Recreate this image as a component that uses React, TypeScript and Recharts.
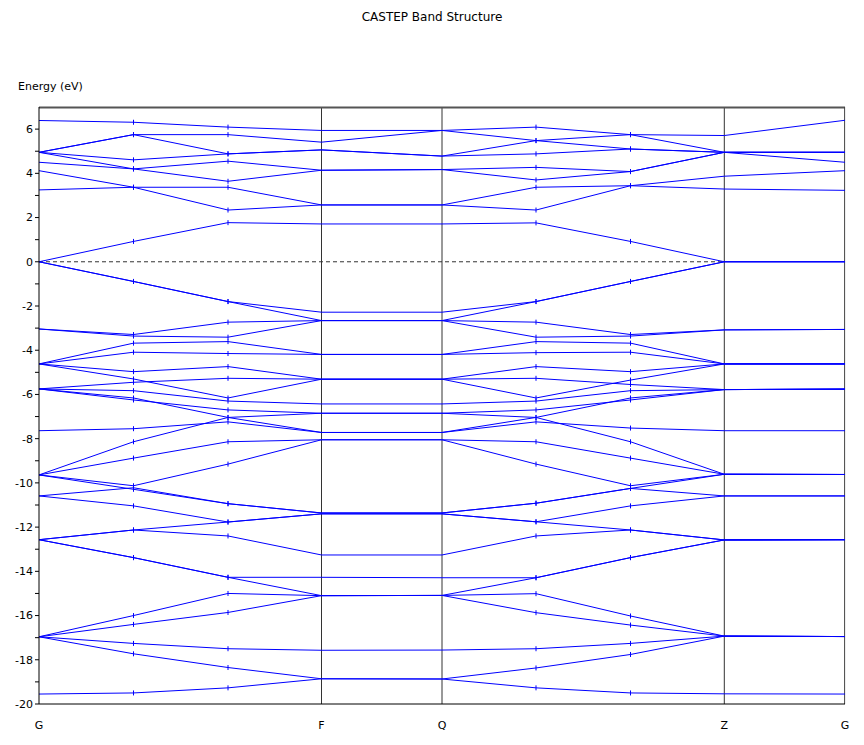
import { LineChart, Line, XAxis, YAxis, ReferenceLine } from "recharts";

// k-path positions (G, two interior points, F, Q, two interior points, Z, G)
const kPos = [0, 94.5, 189, 282.5, 403, 497, 591.5, 685.3, 806];
const kTicks = [0, 282.5, 403, 685.3, 806];
const kLabels = ["G", "F", "Q", "Z", "G"];
const energyTicks = [
  -20, -19, -18, -17, -16, -15, -14, -13, -12, -11, -10, -9, -8, -7, -6, -5,
  -4, -3, -2, -1, 0, 1, 2, 3, 4, 5, 6,
];
const markerIdx = [1, 2, 5, 6];

// band energies (eV) at each k point
const conductionBands = [
  [6.39, 6.31, 6.09, 5.94, 5.94, 6.09, 5.75, 5.71, 6.4],
  [4.95, 5.75, 5.75, 5.41, 5.94, 5.48, 5.75, 4.95, 4.95],
  [4.95, 5.75, 4.88, 5.06, 4.78, 5.48, 5.1, 4.95, 4.95],
  [4.95, 4.61, 4.88, 5.06, 4.78, 4.88, 5.1, 4.95, 4.5],
  [4.95, 4.2, 4.55, 4.14, 4.17, 4.27, 4.08, 4.95, 4.95],
  [4.5, 4.2, 3.64, 4.14, 4.17, 3.7, 4.08, 4.95, 4.95],
  [4.12, 3.37, 3.37, 2.57, 2.57, 3.37, 3.44, 3.29, 3.23],
  [3.25, 3.37, 2.34, 2.57, 2.57, 2.34, 3.44, 3.87, 4.12],
  [0, 0.92, 1.77, 1.71, 1.71, 1.76, 0.92, 0, 0],
];

const fermiBands = [
  [0, -0.89, -1.8, -2.28, -2.28, -1.8, -0.89, 0, 0],
  [0, -0.89, -1.8, -2.66, -2.66, -1.8, -0.89, 0, 0],
];

const valenceBands = [
  [-3.04, -3.29, -2.73, -2.66, -2.66, -2.73, -3.29, -3.08, -3.06],
  [-3.04, -3.36, -3.41, -2.66, -2.66, -3.41, -3.36, -3.08, -3.06],
  [-4.62, -3.68, -3.61, -4.19, -4.19, -3.61, -3.68, -4.62, -4.62],
  [-4.62, -4.09, -4.15, -4.19, -4.19, -4.11, -4.09, -4.62, -4.62],
  [-4.62, -4.97, -4.74, -5.31, -5.31, -4.74, -4.97, -4.62, -4.62],
  [-4.62, -5.3, -6.16, -5.31, -5.31, -6.16, -5.35, -4.62, -4.62],
  [-5.75, -5.45, -5.27, -5.31, -5.31, -5.27, -5.55, -5.78, -5.76],
  [-5.75, -5.83, -6.3, -6.43, -6.43, -6.3, -5.83, -5.78, -5.76],
  [-5.75, -6.16, -7.04, -7.72, -7.72, -7.04, -6.16, -5.78, -5.76],
  [-5.75, -6.25, -6.7, -6.85, -6.85, -6.7, -6.25, -5.78, -5.76],
  [-7.64, -7.55, -7.24, -7.72, -7.72, -7.24, -7.52, -7.64, -7.64],
  [-9.64, -8.14, -7.04, -6.85, -6.85, -7.04, -8.14, -9.61, -9.62],
  [-9.64, -8.88, -8.14, -8.05, -8.05, -8.14, -8.88, -9.61, -9.62],
];

const coreBands = [
  [-19.55, -19.5, -19.27, -18.86, -18.87, -19.27, -19.5, -19.54, -19.55],
  [-16.96, -17.73, -18.35, -18.86, -18.87, -18.37, -17.76, -16.93, -16.95],
  [-16.96, -17.26, -17.5, -17.57, -17.56, -17.5, -17.26, -16.93, -16.95],
  [-16.96, -16.4, -15.86, -15.1, -15.09, -15.87, -16.43, -16.93, -16.95],
  [-16.96, -16.0, -15.0, -15.1, -15.09, -15.01, -16.02, -16.93, -16.95],
  [-12.57, -13.38, -14.27, -15.1, -15.09, -14.29, -13.38, -12.58, -12.57],
  [-12.57, -13.38, -14.27, -14.27, -14.29, -14.29, -13.38, -12.58, -12.57],
  [-12.57, -12.13, -12.4, -13.26, -13.26, -12.4, -12.13, -12.58, -12.57],
  [-12.57, -12.13, -11.77, -11.4, -11.4, -11.76, -12.13, -12.58, -12.57],
  [-10.59, -11.04, -11.77, -11.4, -11.4, -11.76, -11.04, -10.59, -10.59],
  [-9.64, -10.29, -10.94, -11.36, -11.36, -10.92, -10.25, -9.61, -9.62],
  [-9.64, -10.13, -9.15, -8.05, -8.05, -9.15, -10.13, -9.61, -9.62],
  [-10.59, -10.22, -10.94, -11.36, -11.36, -10.92, -10.25, -10.59, -10.59],
];

const allBands = [...conductionBands, ...fermiBands, ...valenceBands, ...coreBands];

const data = kPos.map((k, i) => {
  const row: Record<string, number> = { k };
  allBands.forEach((b, j) => {
    row[`b${j}`] = b[i];
  });
  return row;
});

const KDot = (props: any) => {
  const { cx, cy, index } = props;
  if (!markerIdx.includes(index) || cx == null || cy == null) {
    return <g key={`n-${index}`} />;
  }
  return (
    <line
      key={`d-${index}`}
      x1={cx}
      x2={cx}
      y1={cy - 2.5}
      y2={cy + 2.5}
      stroke="#0000ff"
      strokeWidth={1}
    />
  );
};

const font = "'DejaVu Sans', Verdana, sans-serif";

const App = () => {
  return (
    <div
      style={{
        position: "absolute",
        left: 0,
        top: 0,
        width: 864,
        height: 745,
        background: "#fff",
        fontFamily: font,
      }}
    >
      <div
        style={{
          position: "absolute",
          top: 10,
          width: 864,
          textAlign: "center",
          fontSize: 12,
          color: "#000",
        }}
      >
        CASTEP Band Structure
      </div>
      <div
        style={{ position: "absolute", left: 18, top: 80, fontSize: 11, color: "#000" }}
      >
        Energy (eV)
      </div>
      <LineChart
        width={864}
        height={745}
        data={data}
        margin={{ top: 107, right: 19, bottom: 11, left: 0 }}
      >
        <XAxis
          dataKey="k"
          type="number"
          domain={[0, 806]}
          ticks={kTicks}
          tickFormatter={(v: number) => kLabels[kTicks.indexOf(v)] ?? ""}
          tickLine={false}
          tickMargin={11}
          height={30}
          stroke="#000"
          tick={{ fill: "#000", fontSize: 11, fontFamily: font }}
        />
        <YAxis
          type="number"
          domain={[-20, 7]}
          ticks={energyTicks}
          interval={0}
          tickFormatter={(v: number) => (v % 2 === 0 ? String(v) : "")}
          tickSize={4}
          tickMargin={2}
          width={39}
          stroke="#000"
          tick={{ fill: "#000", fontSize: 11, fontFamily: font }}
        />
        <ReferenceLine
          segment={[
            { x: 0, y: 0 },
            { x: 685.3, y: 0 },
          ]}
          stroke="#333"
          strokeDasharray="4 3"
        />
        {kTicks.slice(1, 4).map((x) => (
          <ReferenceLine key={`v-${x}`} x={x} stroke="#333" />
        ))}
        {/* plot frame: top and right edges */}
        <ReferenceLine y={6.98} stroke="#555" strokeWidth={2} />
        <ReferenceLine x={805.6} stroke="#444" />
        {allBands.map((_, j) => (
          <Line
            key={`b${j}`}
            type="linear"
            dataKey={`b${j}`}
            stroke="#0000ff"
            strokeWidth={1}
            dot={KDot}
            activeDot={false}
            isAnimationActive={false}
          />
        ))}
      </LineChart>
    </div>
  );
};

export default App;
